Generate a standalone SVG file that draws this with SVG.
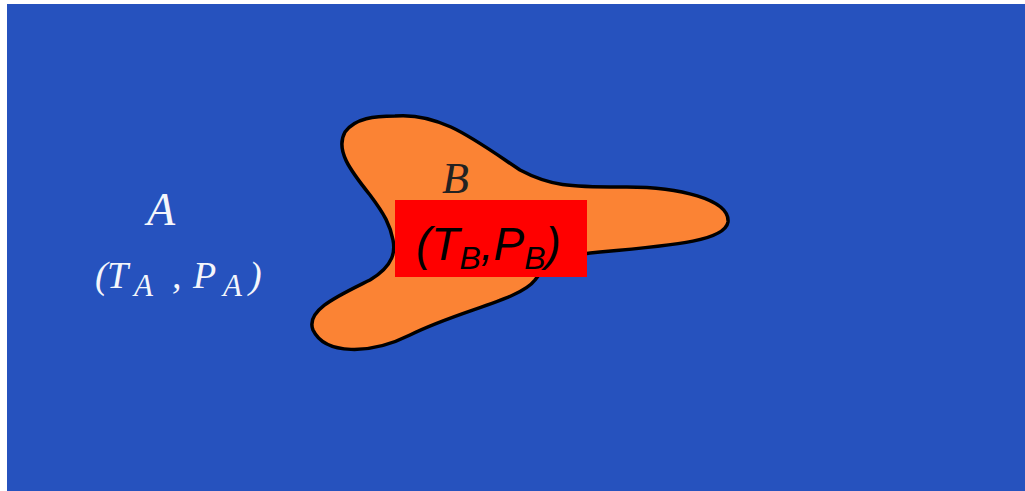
<svg xmlns="http://www.w3.org/2000/svg" width="1025" height="491" viewBox="0 0 1025 491">
<style>
.serif{font-family:"Liberation Serif","Times New Roman",serif;font-style:italic}
.sans{font-family:"Liberation Sans",Arial,sans-serif;font-style:italic}
.w{fill:#f4f6fb}
</style>
<rect x="0" y="0" width="1025" height="491" fill="#ffffff"/>
<rect x="7" y="4" width="1018" height="487" fill="#2652BE"/>
<g id="regionA">
<text class="serif w" x="147" y="225" font-size="46">A</text>
<text class="serif w" font-size="38">
<tspan x="95" y="288">(</tspan><tspan x="107" y="288">T</tspan><tspan x="134" y="296" font-size="31">A</tspan><tspan x="172" y="288">,</tspan><tspan x="193" y="288">P</tspan><tspan x="223" y="296" font-size="31">A</tspan><tspan x="249" y="288">)</tspan>
</text>
</g>
<g id="regionB">
<path d="M395,116 C440,112 475,140 520,170 C550,186 570,187 620,187 C680,186 730,200 728,222 C725,240 680,245 600,252 C560,255 545,265 535,280 C520,300 460,310 410,335 C370,355 325,355 313,330 C305,310 340,295 370,280 C395,265 395,250 393,240 C390,225 385,215 370,195 C350,170 335,150 345,132 C355,118 375,116 395,116 Z" fill="#FB8334" stroke="#000000" stroke-width="3.5"/>
<text class="serif" x="442" y="193" font-size="44" fill="#222222">B</text>
<rect x="395" y="200" width="192" height="77" fill="#FF0000"/>
<text class="sans" x="416" y="260" font-size="46" fill="#000000">(T<tspan font-size="32" dy="9">B</tspan><tspan dy="-9">,P</tspan><tspan font-size="32" dy="9">B</tspan><tspan dy="-9">)</tspan></text>
</g>
</svg>
